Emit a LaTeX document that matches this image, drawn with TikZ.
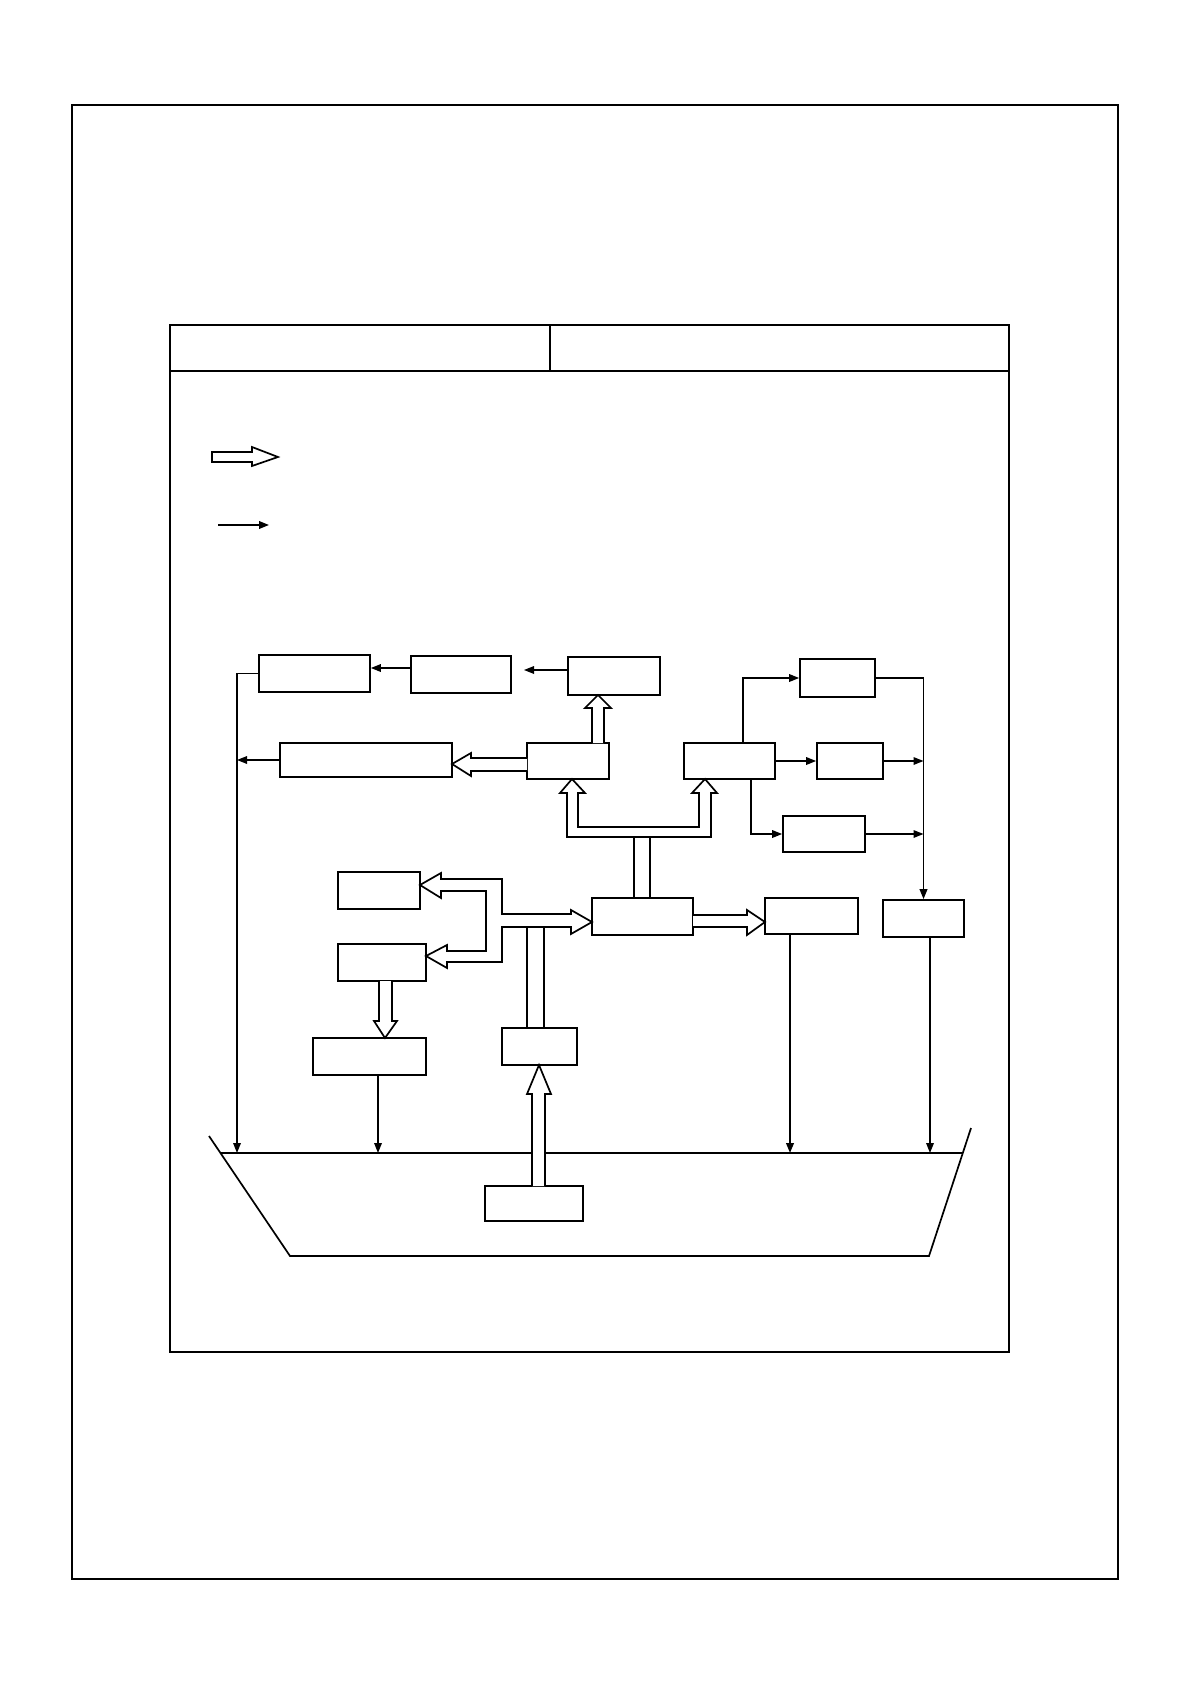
\documentclass[tikz,border=0pt]{standalone}
\usetikzlibrary{arrows.meta, fit}

\begin{document}
\begin{tikzpicture}[x=0.5pt, y=-0.5pt,
    box/.style={draw, line width=0.85pt, inner sep=0pt},
    flow/.style={-{Triangle[length=5pt, width=3.8pt]}, line width=0.7pt},
    pipe/.style={draw, fill=white, line width=0.85pt, line join=miter}]
    \useasboundingbox (0,0) rectangle (1190,1684);

    % page frame and table
    \draw[line width=1.1pt] (72,105) rectangle (1118,1579);
    \draw[line width=0.9pt] (170,325) rectangle (1009,1352);
    \draw[line width=1.1pt] (170,371) -- (1009,371);
    \draw[line width=0.9pt] (550,325) -- (550,371);

    % legend
    \draw[pipe] (212,452) -- (252,452) -- (252,447) -- (278,457) -- (252,466) -- (252,462) -- (212,462) -- cycle;
    \coordinate (lg1) at (218,525);
    \coordinate (lg2) at (269,525);
    \draw[flow, line width=0.9pt] (lg1) -- (lg2);

    % tank
    \draw[line width=0.85pt] (209,1136) -- (290,1256) -- (929,1256) -- (971,1128);
    \draw[line width=0.85pt] (221,1153) -- (963,1153);
    \coordinate (t1) at (237,1153);
    \coordinate (t2) at (378,1153);
    \coordinate (t3) at (790,1153);
    \coordinate (t4) at (930,1153);

    % blocks
    \node[box, fit={(259,655) (370,692)}] (A1) {};
    \node[box, fit={(411,656) (511,693)}] (A2) {};
    \node[box, fit={(568,657) (660,695)}] (A3) {};
    \node[box, fit={(280,743) (452,777)}] (B1) {};
    \node[box, fit={(527,743) (609,779)}] (B2) {};
    \node[box, fit={(684,743) (775,779)}] (C1) {};
    \node[box, fit={(800,659) (875,697)}] (D1) {};
    \node[box, fit={(817,743) (883,779)}] (D2) {};
    \node[box, fit={(783,816) (865,852)}] (D3) {};
    \node[box, fit={(338,872) (420,909)}] (E1) {};
    \node[box, fit={(338,944) (426,981)}] (E2) {};
    \node[box, fit={(592,898) (693,935)}] (F) {};
    \node[box, fit={(765,898) (858,934)}] (G) {};
    \node[box, fit={(883,900) (964,937)}] (H) {};
    \node[box, fit={(313,1038) (426,1075)}] (I) {};
    \node[box, fit={(502,1028) (577,1065)}] (J) {};
    \node[box, fit={(485,1186) (583,1221)}] (K) {};

    % signal lines
    \coordinate (a3end) at (524,670);
    \draw[flow] (A2.west |- 0,668) -- (A1.east |- 0,668);
    \draw[flow] (A3.west |- a3end) -- (a3end);
    \draw[flow] (A1.west) -| (t1);
    \draw[flow] (B1.west) -- (B1.west -| t1);
    \draw[flow] (C1.north -| 743,0) |- (D1.west);
    \draw[flow] (C1.east) -- (C1.east -| D2.west);
    \draw[flow] (C1.south -| 751,0) |- (D3.west);
    \draw[flow, line width=0.9pt] (D1.east) -| (H.north);
    \draw[flow] (D2.east) -- (D2.east -| H.north);
    \draw[flow] (D3.east) -- (D3.east -| H.north);
    \draw[flow] (I.south -| t2) -- (t2);
    \draw[flow, line width=1pt] (G.south -| t3) -- (t3);
    \draw[flow] (H.south -| t4) -- (t4);

    % material pipes
    \draw[pipe] (527,758) -- (471,758) -- (471,753) -- (452,764) -- (471,776) -- (471,771) -- (527,771);
    \draw[pipe] (592,743) -- (592,708) -- (585,708) -- (598,695) -- (611,708) -- (604,708) -- (604,743);
    \draw[pipe] (567,837) -- (567,793) -- (560,793) -- (572,779) -- (585,793) -- (578,793) -- (578,827)
        -- (699,827) -- (699,793) -- (692,793) -- (705,779) -- (717,793) -- (711,793) -- (711,837) -- cycle;
    \draw[line width=0.85pt] (634,837) -- (634,898) (650,837) -- (650,898);
    \draw[pipe] (486,891) -- (441,891) -- (441,898) -- (420,885) -- (441,873) -- (441,879) -- (502,879)
        -- (502,914) -- (571,914) -- (571,910) -- (592,922) -- (571,934) -- (571,927) -- (502,927)
        -- (502,962) -- (447,962) -- (447,968) -- (426,956) -- (447,945) -- (447,951) -- (486,951) -- cycle;
    \draw[line width=0.85pt] (527,1028) -- (527,927) (544,1028) -- (544,927);
    \draw[pipe] (693,915) -- (747,915) -- (747,910) -- (765,922) -- (747,935) -- (747,927) -- (693,927);
    \draw[pipe] (379,981) -- (379,1021) -- (374,1021) -- (385,1038) -- (397,1021) -- (392,1021) -- (392,981);
    \draw[pipe] (532,1186) -- (532,1094) -- (527,1094) -- (539,1065) -- (551,1094) -- (545,1094) -- (545,1186);
\end{tikzpicture}
\end{document}
